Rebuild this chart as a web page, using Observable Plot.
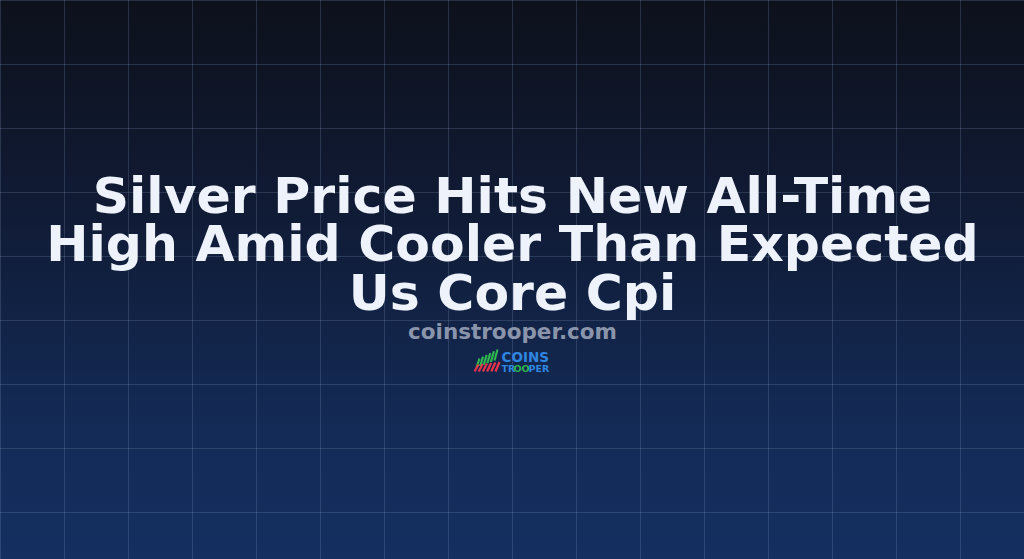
<!DOCTYPE html>
<html>
<head>
<meta charset="utf-8">
<script src="https://cdn.jsdelivr.net/npm/d3@7"></script>
<script src="https://cdn.jsdelivr.net/npm/@observablehq/plot@0.6"></script>
<style>
  html, body { margin: 0; padding: 0; background: #0e1320; }
  #chart svg { display: block; background: linear-gradient(180deg, #0d111c 0%, #101a33 35%, #132a55 75%, #142f60 100%); }
</style>
</head>
<body>
<div id="chart"></div>
<script>
// Content
const titleLines = ["Silver Price Hits New All-Time", "High Amid Cooler Than Expected", "Us Core Cpi"];
const siteName = ["coinstrooper.com"];
const logoTop = ["COINS"];
const logoBottom = ["TR", "OO", "PER"];
const logoBottomColors = ["#2f86e0", "#2fb84f", "#2f86e0"];
// Grid positions (px)
const gridX = d3.range(0, 1025, 64);
const gridY = d3.range(0, 560, 64);
// Logo icon bars
const logoGreen = [0, 1, 2, 3, 4, 5];
const logoRed = [0, 1, 2, 3, 4, 5];

const W = 1024, H = 559;
const bottomX = [501, 513, 528];
const chart = Plot.plot({
  width: W,
  height: H,
  margin: 0,
  x: {domain: [0, W], axis: null},
  y: {domain: [0, H], reverse: true, axis: null},
  style: {fontFamily: "'DejaVu Sans', sans-serif"},
  marks: [
    Plot.ruleX(gridX, {x: d => d, stroke: "#8da2c8", strokeOpacity: 0.22, strokeWidth: 1}),
    Plot.ruleY(gridY, {y: d => d, stroke: "#8da2c8", strokeOpacity: 0.22, strokeWidth: 1}),
    // title
    Plot.text(titleLines, {
      x: () => W / 2,
      y: (d, i) => 212 + i * 48.5,
      text: d => d,
      fontSize: 50.5,
      fontWeight: "bold",
      fill: "#eef2fb",
      textAnchor: "middle",
      lineAnchor: "bottom",
      style: {filter: "drop-shadow(1px 2px 2px rgba(0,0,0,0.5))"}
    }),
    Plot.text(siteName, {
      x: () => W / 2,
      y: () => 338,
      text: d => d,
      fontSize: 21.5,
      fontWeight: "bold",
      fill: "#8a94ab",
      textAnchor: "middle",
      lineAnchor: "bottom"
    }),
    // logo icon: green rising bars and red bars
    Plot.link(logoGreen, {
      x1: i => 476 + i * 3.6, y1: i => 367 - i * 1.4,
      x2: i => 479 + i * 3.6, y2: i => 358 - i * 1.8,
      stroke: "#2fb84f", strokeWidth: 2.2
    }),
    Plot.link(logoRed, {
      x1: i => 474 + i * 4.2, y1: () => 371,
      x2: i => 478 + i * 4.2, y2: i => 364 - i * 0.5,
      stroke: "#e8334a", strokeWidth: 2.2
    }),
    Plot.text(logoTop, {
      x: () => 501, y: () => 361, text: d => d,
      fontSize: 13.5, fontWeight: "bold", fill: "#2f86e0",
      textAnchor: "start", lineAnchor: "bottom"
    }),
    Plot.text(logoBottom, {
      x: (d, i) => bottomX[i], y: () => 371, text: d => d,
      fontSize: 9.5, fontWeight: "bold", fill: (d, i) => logoBottomColors[i],
      textAnchor: "start", lineAnchor: "bottom"
    })
  ]
});
document.getElementById("chart").appendChild(chart);
</script>
</body>
</html>
